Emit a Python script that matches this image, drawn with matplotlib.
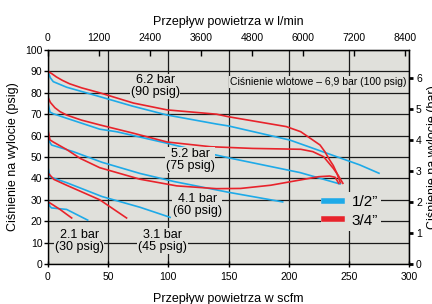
import matplotlib
matplotlib.use("Agg")
import matplotlib.pyplot as plt

plt.rcParams['font.family'] = ['Liberation Sans', 'DejaVu Sans']

BG = '#e0e0db'
BLUE = '#1eaae8'
RED = '#e8232b'

# przeplyw [scfm] / cisnienie [psig], 1/2"
blue_62_x = [0, 2, 4.4, 15.5, 43, 70, 99, 140, 150, 201, 218, 259, 275]
blue_62_y = [90, 87, 85.2, 82.6, 78.2, 73.8, 69.6, 65.4, 64.5, 57.9, 54.5, 46.3, 42.4]
blue_52_x = [0, 1.7, 4.4, 15.5, 43, 57, 99, 135, 151, 209.5, 242.5]
blue_52_y = [75, 71, 70.2, 68.1, 63, 61.8, 56.4, 51.5, 49.5, 42.7, 37.4]
blue_41_x = [0, 1.5, 3, 21, 45, 76.5, 105, 150, 195]
blue_41_y = [60.3, 57, 55.6, 52.5, 47.5, 42.3, 38.5, 33.5, 29]
blue_31_x = [0, 1.7, 15.5, 45, 76.5, 101.5]
blue_31_y = [45.3, 40.7, 38.0, 31.5, 26.5, 21.8]
blue_21_x = [0, 1.5, 3, 15.5, 33]
blue_21_y = [30.5, 27, 26.2, 25.5, 20.5]

# 3/4"
red_62_x = [0, 3, 7, 12, 18, 28, 43, 71, 99, 140, 150, 198, 210, 218, 226, 230, 234, 237, 240, 243]
red_62_y = [90, 89, 87.4, 85.8, 84.2, 82.3, 80, 75.2, 72, 70, 68.8, 64.2, 61.8, 58.7, 55.6, 52.5, 48.6, 46, 42.4, 37.7]
red_52_x = [0, 2, 5.8, 10, 15.5, 28, 43, 71, 99, 135, 170, 210, 220, 229, 237, 241, 245]
red_52_y = [78, 75.5, 73, 71.2, 69.6, 67.2, 65, 61.1, 57, 54.8, 54, 53.6, 52.5, 50.1, 44.7, 41.5, 37.7]
red_41_x = [0, 1.7, 4.4, 15.5, 26.6, 43, 76.5, 107, 140, 160, 185, 210, 225, 234, 238.6, 241.5]
red_41_y = [62.6, 58, 57, 53.5, 49.4, 45, 39.6, 36.5, 35.2, 35.3, 36.8, 39.3, 40.8, 41.1, 40.5, 37.7]
red_31_x = [0, 1.7, 5, 15.5, 43, 65.3]
red_31_y = [42.5, 41.5, 39.5, 36.8, 30, 21.5]
red_21_x = [0, 1.7, 10, 19.7]
red_21_y = [29, 28.5, 25.5, 21.5]

labels = ["6.2 bar\n(90 psig)", "5.2 bar\n(75 psig)", "4.1 bar\n(60 psig)",
          "3.1 bar\n(45 psig)", "2.1 bar\n(30 psig)"]
label_x = [89, 118, 124, 95, 26]
label_y = [83, 48.6, 27.6, 10.7, 10.7]

SCFM_TO_LMIN = 28.3168
PSI_PER_BAR = 14.5038

fig = plt.figure(figsize=(4.32, 3.04), dpi=100)
ax = fig.add_axes([0.111, 0.1316, 0.836, 0.704])
ax.set_facecolor(BG)

ax.set_xlim(0, 300)
ax.set_ylim(0, 100)
ax.set_xticks(range(0, 301, 50))
ax.set_yticks(range(0, 101, 10))
ax.grid(True, color='#1a1a1a', lw=0.9)
ax.set_axisbelow(True)
ax.tick_params(axis='both', labelsize=7.5, color='black')
ax.tick_params(axis='x', direction='inout', length=5, width=1)
ax.tick_params(axis='y', direction='out', length=3, width=1, pad=1)
for s in ax.spines.values():
    s.set_linewidth(1.0)

ax.plot(blue_62_x, blue_62_y, color=BLUE, lw=1.2, label='1/2”')
ax.plot(red_62_x, red_62_y, color=RED, lw=1.2, label='3/4”')
for x, y in [(blue_52_x, blue_52_y), (blue_41_x, blue_41_y),
             (blue_31_x, blue_31_y), (blue_21_x, blue_21_y)]:
    ax.plot(x, y, color=BLUE, lw=1.2)
for x, y in [(red_52_x, red_52_y), (red_41_x, red_41_y),
             (red_31_x, red_31_y), (red_21_x, red_21_y)]:
    ax.plot(x, y, color=RED, lw=1.2)

for t, x, y in zip(labels, label_x, label_y):
    ax.text(x, y, t, ha='center', va='center', fontsize=9, linespacing=1.0,
            bbox=dict(facecolor=BG, edgecolor='none', pad=0.5))

ax.text(298, 85, "Ciśnienie wlotowe – 6,9 bar (100 psig)", ha='right', va='center',
        fontsize=7.5, bbox=dict(facecolor=BG, edgecolor='none', pad=0.5))

leg = ax.legend(loc='lower left', bbox_to_anchor=(0.735, 0.12), fontsize=11,
                frameon=True, facecolor=BG, edgecolor='none', framealpha=1,
                handlelength=1.2, handletextpad=0.6, labelspacing=0.3,
                borderpad=0.2)
for line in leg.get_lines():
    line.set_linewidth(4)

ax.set_xlabel("Przepływ powietrza w scfm", fontsize=9, labelpad=8)
ax.set_ylabel("Ciśnienie na wylocie (psig)", fontsize=9, labelpad=4)

top = ax.secondary_xaxis('top', functions=(lambda v: v * SCFM_TO_LMIN,
                                           lambda v: v / SCFM_TO_LMIN))
top.set_xticks(range(0, 8401, 1200))
top.tick_params(direction='in', length=4, width=1, labelsize=7.5, pad=5)
top.set_xlabel("Przepływ powietrza w l/min", fontsize=9, labelpad=6)

right = ax.secondary_yaxis('right', functions=(lambda v: v / PSI_PER_BAR,
                                               lambda v: v * PSI_PER_BAR))
right.set_yticks(range(0, 7))
right.tick_params(direction='out', length=3, width=2, labelsize=7.5, pad=2)
right.set_ylabel("Ciśnienie na wylocie (bar)", fontsize=9, labelpad=4)

fig.savefig("out.png", dpi=100)
